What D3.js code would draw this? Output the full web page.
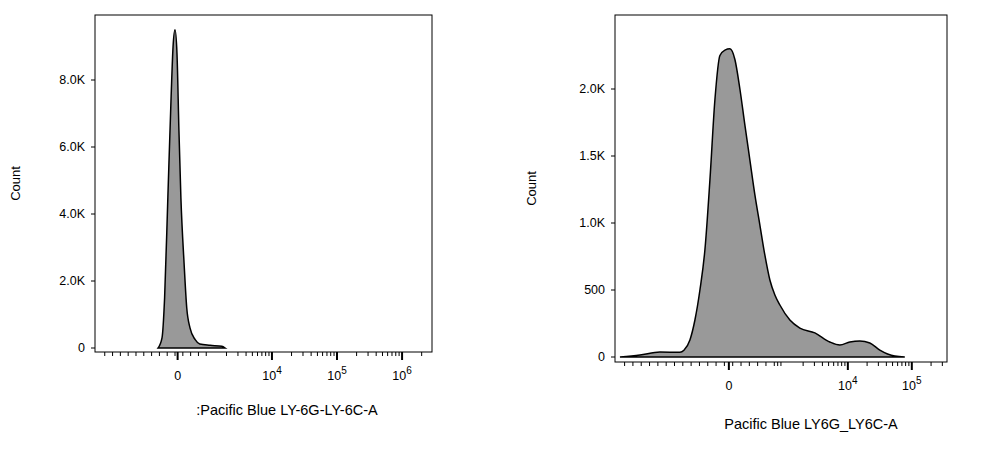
<!DOCTYPE html><html><head><script src="https://cdn.jsdelivr.net/npm/d3@7"></script>
<style>body{margin:0;background:#fff}text{font-family:"Liberation Sans",Arial,sans-serif}</style></head><body>
<svg id="c" width="999" height="450"></svg>
<script>
// x in display units: 10^4 -> 4, 10^5 -> 5 ... ; zero sits at its own position
const leftX=[2.25,2.31,2.35,2.40,2.45,2.48,2.51,2.54,2.57,2.60,2.65,2.69,2.74,2.82,2.89,3.05,3.23,3.28];
const leftY=[0,300,1500,4500,7500,9000,9500,8800,6500,4500,2500,1200,600,250,120,80,50,0];
const rightPx=[620,640,660,680,684,690,695,700,705,710,715,720,725,730,735,740,745,750,755,760,765,770,775,780,790,800,815,830,840,850,860,870,880,895,905];
const rightY=[0,15,37,35,50,127,276,500,800,1320,1920,2250,2290,2300,2220,2000,1730,1470,1210,985,760,575,463,388,276,216,180,112,90,112,120,105,52,7,0];
const rightX=rightPx.map(p=>4+(p-848)/64);
const leftYTicks=[0,2000,4000,6000,8000], leftYLabels=["0","2.0K","4.0K","6.0K","8.0K"];
const rightYTicks=[0,500,1000,1500,2000], rightYLabels=["0","500","1.0K","1.5K","2.0K"];
const leftXTicks=[2.55,4,5,6], leftXLabels=["0","10^4","10^5","10^6"];
const rightXTicks=[2.14,4,5], rightXLabels=["0","10^4","10^5"];
const svg=d3.select("#c");
function panel(o){
  const g=svg.append("g");
  const x=d3.scaleLinear().domain(o.xd).range([o.x0,o.x1]);
  const y=d3.scaleLinear().domain([0,o.ymax]).range([o.yb,o.yt]);
  const pts=o.xs.map((v,i)=>[v,o.ys[i]]);
  g.append("path").datum(pts).attr("d",d3.area().x(d=>x(d[0])).y0(y(0)).y1(d=>y(d[1])).curve(d3.curveMonotoneX))
   .attr("fill","#999").attr("stroke","#000").attr("stroke-width",1.5);
  g.append("rect").attr("x",o.x0).attr("y",o.yt).attr("width",o.x1-o.x0).attr("height",o.ybox-o.yt).attr("fill","none").attr("stroke","#000").attr("stroke-width",1);
  o.yTicks.forEach((t,i)=>{
    g.append("line").attr("x1",o.x0-4).attr("x2",o.x0).attr("y1",y(t)).attr("y2",y(t)).attr("stroke","#000");
    g.append("text").attr("x",o.x0-10).attr("y",y(t)+4).attr("text-anchor","end").attr("font-size",12.5).text(o.yLabels[i]);
  });
  const minors=[];
  for(let d=Math.floor(o.xd[0]);d<o.xd[1];d++){for(let k=2;k<10;k++){const u=d+Math.log10(k);if(u>o.logStart&&u<o.xd[1])minors.push(u);}}
  for(let u=o.xd[0]+0.15;u<o.logStart;u+=o.linStep)minors.push(u);
  minors.forEach(u=>g.append("line").attr("x1",x(u)).attr("x2",x(u)).attr("y1",o.ybox).attr("y2",o.ybox+4).attr("stroke","#000"));
  o.xTicks.forEach((t,i)=>{
    g.append("line").attr("x1",x(t)).attr("x2",x(t)).attr("y1",o.ybox).attr("y2",o.ybox+8).attr("stroke","#000").attr("stroke-width",2);
    const lab=o.xLabels[i];
    const tx=g.append("text").attr("x",x(t)).attr("y",o.ybox+28).attr("text-anchor","middle").attr("font-size",12.5);
    if(lab.startsWith("10^")){tx.append("tspan").text("10");tx.append("tspan").attr("dy",-6).attr("font-size",10).text(lab.slice(3));}
    else tx.text(lab);
  });
  g.append("text").attr("transform",`translate(${o.ytx},${(o.yt+o.ybox)/2}) rotate(-90)`).attr("text-anchor","middle").attr("font-size",13).text("Count");
  g.append("text").attr("x",o.xtx).attr("y",o.xty).attr("text-anchor","middle").attr("font-size",14.5).text(o.xt);
}
panel({xs:leftX,ys:leftY,xd:[1.28,6.46],x0:95,x1:432,yt:15,yb:348,ybox:352,ymax:(348-15)/33.5*1000,
  yTicks:leftYTicks,yLabels:leftYLabels,xTicks:leftXTicks,xLabels:leftXLabels,logStart:3.0,linStep:0.12,ytx:20,xtx:287,xty:415,xt:":Pacific Blue LY-6G-LY-6C-A"});
panel({xs:rightX,ys:rightY,xd:[0.36,5.55],x0:615,x1:947,yt:15,yb:357,ybox:362,ymax:(357-15)/134*1000,
  yTicks:rightYTicks,yLabels:rightYLabels,xTicks:rightXTicks,xLabels:rightXLabels,logStart:2.9,linStep:0.13,ytx:536,xtx:811,xty:429,xt:"Pacific Blue LY6G_LY6C-A"});
</script></body></html>
